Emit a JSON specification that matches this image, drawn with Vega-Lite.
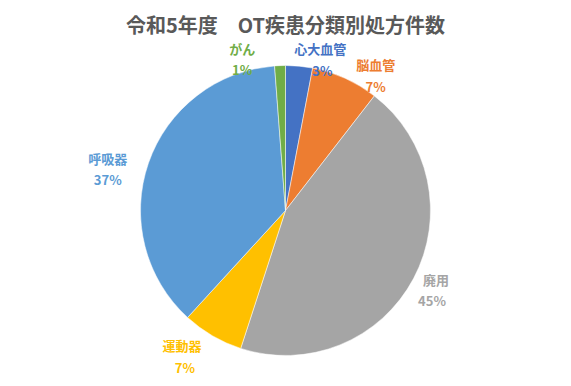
{
  "$schema": "https://vega.github.io/schema/vega-lite/v6.json",
  "autosize": {"type": "fit", "contains": "padding"},
  "width": 571,
  "height": 386,
  "padding": {"top": 17, "left": 0, "right": 0, "bottom": 0},
  "background": "white",
  "config": {"view": {"stroke": null}},
  "title": {
    "text": "令和5年度　OT疾患分類別処方件数",
    "font": "Noto Sans CJK JP",
    "fontSize": 20,
    "fontWeight": "bold",
    "color": "#595959",
    "anchor": "middle",
    "offset": -2
  },
  "data": {
    "values": [
      {"cat": "心大血管", "value": 3.0, "label": "3%", "order": 1},
      {"cat": "脳血管", "value": 7.5, "label": "7%", "order": 2},
      {"cat": "廃用", "value": 44.5, "label": "45%", "order": 3},
      {"cat": "運動器", "value": 6.8, "label": "7%", "order": 4},
      {"cat": "呼吸器", "value": 37.0, "label": "37%", "order": 5},
      {"cat": "がん", "value": 1.2, "label": "1%", "order": 6}
    ]
  },
  "encoding": {
    "theta": {"field": "value", "type": "quantitative", "stack": true},
    "order": {"field": "order", "type": "quantitative"},
    "color": {
      "field": "cat",
      "type": "nominal",
      "scale": {
        "domain": ["心大血管", "脳血管", "廃用", "運動器", "呼吸器", "がん"],
        "range": ["#4472C4", "#ED7D31", "#A5A5A5", "#FFC000", "#5B9BD5", "#70AD47"]
      },
      "legend": null
    }
  },
  "layer": [
    {
      "mark": {"type": "arc", "outerRadius": 145, "stroke": "white", "strokeWidth": 0.5}
    },
    {
      "mark": {
        "type": "text",
        "radius": 168,
        "font": "Noto Sans CJK JP",
        "fontSize": 13,
        "fontWeight": "bold",
        "dx": {"expr": "datum.cat == 'がん' ? -37 : datum.cat == '心大血管' ? 19 : datum.cat == '脳血管' ? 21 : datum.cat == '廃用' ? 2 : datum.cat == '運動器' ? -19 : -19"},
        "dy": {"expr": "datum.cat == 'がん' ? 7 : datum.cat == '心大血管' ? 7 : datum.cat == '脳血管' ? 9 : datum.cat == '廃用' ? -8 : datum.cat == '運動器' ? -9 : 4"}
      },
      "encoding": {"text": {"field": "cat"}}
    },
    {
      "mark": {
        "type": "text",
        "radius": 168,
        "font": "Noto Sans CJK JP",
        "fontSize": 13,
        "fontWeight": "bold",
        "dx": {"expr": "datum.cat == 'がん' ? -37 : datum.cat == '心大血管' ? 21 : datum.cat == '脳血管' ? 21 : datum.cat == '廃用' ? -2 : datum.cat == '運動器' ? -16 : -19"},
        "dy": {"expr": "datum.cat == 'がん' ? 28 : datum.cat == '心大血管' ? 29 : datum.cat == '脳血管' ? 31 : datum.cat == '廃用' ? 13 : datum.cat == '運動器' ? 13 : 25"}
      },
      "encoding": {"text": {"field": "label"}}
    }
  ]
}
